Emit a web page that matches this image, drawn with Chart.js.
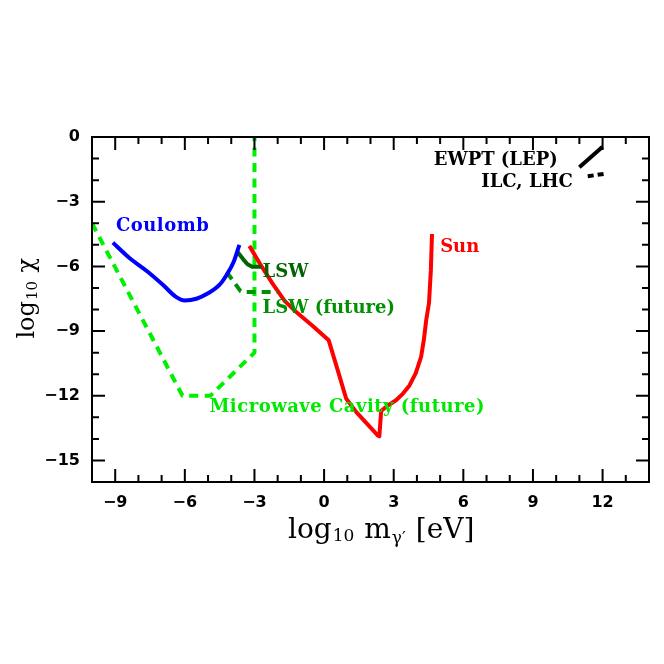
<!DOCTYPE html>
<html>
<head>
<meta charset="utf-8">
<script src="https://cdn.jsdelivr.net/npm/chart.js@4.4.0/dist/chart.umd.min.js"></script>
<style>
  html, body { margin: 0; padding: 0; background: #fff; }
  #wrap { width: 664px; height: 664px; position: relative; }
</style>
</head>
<body>
<div id="wrap"><canvas id="chart"></canvas></div>
<script>
// axis ranges and tick labels
const xMin = -10, xMax = 14;
const yMin = -16, yMax = 0;
const xTicks = [-9, -6, -3, 0, 3, 6, 9, 12];
const yTicks = [-15, -12, -9, -6, -3, 0];

// curves: x = log10 m [eV], y = log10 chi
const coulombX = [-9.1, -8.4, -7.6, -6.9, -6.4, -6.0, -5.5, -5.0, -4.5, -4.2, -3.9, -3.65];
const coulombY = [-4.9, -5.6, -6.25, -6.9, -7.4, -7.58, -7.5, -7.25, -6.85, -6.4, -5.8, -5.0];

const lswX = [-3.72, -3.5, -3.3, -3.1, -2.7];
const lswY = [-5.35, -5.65, -5.9, -6.02, -6.02];

const lswFutureX = [-4.2, -3.9, -3.6, -3.5, -2.0];
const lswFutureY = [-6.26, -6.7, -7.15, -7.19, -7.19];

const sunX = [-3.22, -2.75, -2.22, -1.7, -1.2, -0.5, 0.2, 0.59, 0.95, 1.38, 2.31, 2.38, 2.46, 2.75, 3.1, 3.4, 3.68, 3.95, 4.18, 4.3, 4.4, 4.52, 4.6, 4.65];
const sunY = [-5.05, -5.9, -6.8, -7.6, -8.12, -8.75, -9.43, -10.82, -12.13, -12.75, -13.84, -13.88, -12.7, -12.45, -12.21, -11.9, -11.52, -10.95, -10.2, -9.4, -8.5, -7.7, -6.2, -4.5];

const cavityX = [-10, -6.1, -4.9, -3.0, -3.0];
const cavityY = [-4.0, -12.0, -12.0, -10.0, 0];

const ewptX = [11.0, 12.0];
const ewptY = [-1.4, -0.45];

const ilcX = [11.36, 12.12];
const ilcY = [-1.82, -1.7];

function pts(xs, ys) {
    return xs.map((x, i) => ({ x: x, y: ys[i] }));
}

function fmt(v) {
    return v < 0 ? '\u2212' + (-v) : String(v);
}

// frame with inward ticks on all four sides
const framePlugin = {
    id: 'frame',
    afterDraw(chart) {
        const { ctx, chartArea: a, scales: { x, y } } = chart;
        ctx.save();
        ctx.strokeStyle = '#000';
        ctx.lineWidth = 2;
        ctx.strokeRect(a.left, a.top, a.right - a.left, a.bottom - a.top);
        ctx.beginPath();
        for (let v = xMin + 1; v < xMax; v++) {
            const len = v % 3 === 0 ? 13 : 7;
            const px = x.getPixelForValue(v);
            ctx.moveTo(px, a.bottom);
            ctx.lineTo(px, a.bottom - len);
            ctx.moveTo(px, a.top);
            ctx.lineTo(px, a.top + len);
        }
        for (let v = yMin + 1; v < yMax; v++) {
            const len = v % 3 === 0 ? 13 : 7;
            const py = y.getPixelForValue(v);
            ctx.moveTo(a.left, py);
            ctx.lineTo(a.left + len, py);
            ctx.moveTo(a.right, py);
            ctx.lineTo(a.right - len, py);
        }
        ctx.stroke();
        ctx.restore();
    }
};

// curve labels (in data units) and axis titles
const labelPlugin = {
    id: 'labels',
    afterDatasetsDraw(chart) {
        const { ctx, chartArea: a, scales: { x, y } } = chart;
        const labels = [
            { t: 'Coulomb', x: -8.97, y: -4.37, c: '#0000ff', al: 'left', ls: 0.5 },
            { t: 'LSW', x: -2.65, y: -6.49, c: '#006400', al: 'left', ls: 0 },
            { t: 'LSW (future)', x: -2.65, y: -8.18, c: '#009000', al: 'left', ls: 0 },
            { t: 'Sun', x: 5.0, y: -5.35, c: '#ff0000', al: 'left', ls: 0 },
            { t: 'EWPT (LEP)', x: 10.07, y: -1.31, c: '#000', al: 'right', ls: 0 },
            { t: 'ILC, LHC', x: 10.72, y: -2.32, c: '#000', al: 'right', ls: 0 },
            { t: 'Microwave Cavity (future)', x: -4.94, y: -12.75, c: '#00e800', al: 'left', ls: 0.5 }
        ];
        ctx.save();
        ctx.font = 'bold 18px "DejaVu Serif"';
        ctx.textBaseline = 'alphabetic';
        labels.forEach(l => {
            ctx.fillStyle = l.c;
            ctx.textAlign = l.al;
            ctx.letterSpacing = l.ls + 'px';
            ctx.fillText(l.t, x.getPixelForValue(l.x), y.getPixelForValue(l.y));
        });
        ctx.letterSpacing = '0px';

        // x axis title: log10 m_gamma' [eV]
        ctx.fillStyle = '#000';
        ctx.textAlign = 'left';
        const big = '28px "DejaVu Serif"', small = '17px "DejaVu Serif"';
        const parts = [
            ['log', big, 0], ['10', small, 3], [' m', big, 0], ['\u03b3\u2032', small, 5], [' [eV]', big, 0]
        ];
        let cx = a.left + 196;
        const by = a.bottom + 56;
        parts.forEach(p => {
            ctx.font = p[1];
            ctx.fillText(p[0], cx, by + p[2]);
            cx += ctx.measureText(p[0]).width + 1;
        });

        // y axis title: log10 chi (rotated)
        ctx.save();
        ctx.translate(a.left - 58, y.getPixelForValue(-9.35));
        ctx.rotate(-Math.PI / 2);
        const yb = '24px "DejaVu Serif"', ys = '15px "DejaVu Serif"';
        const yparts = [['log', yb, 0], ['10', ys, 3], [' \u03c7', yb, 0]];
        let tx = 0;
        yparts.forEach(p => {
            ctx.font = p[1];
            ctx.fillText(p[0], tx, p[2]);
            tx += ctx.measureText(p[0]).width + 1;
        });
        ctx.restore();
        ctx.restore();
    }
};

const tickFont = { family: '"DejaVu Sans"', size: 16, weight: 'bold' };

new Chart(document.getElementById('chart'), {
    type: 'scatter',
    data: {
        datasets: [
            { data: pts(coulombX, coulombY), borderColor: '#0000ff', borderWidth: 4, cubicInterpolationMode: 'monotone', order: 1 },
            { data: pts(lswX, lswY), borderColor: '#006400', borderWidth: 4, order: 2 },
            { data: pts(lswFutureX, lswFutureY), borderColor: '#009000', borderWidth: 4, borderDash: [9, 6], order: 3 },
            { data: pts(sunX, sunY), borderColor: '#ff0000', borderWidth: 4, order: 4 },
            { data: pts(ewptX, ewptY), borderColor: '#000', borderWidth: 4, order: 5 },
            { data: pts(ilcX, ilcY), borderColor: '#000', borderWidth: 4, borderDash: [6, 4], order: 6 },
            { data: pts(cavityX, cavityY), borderColor: '#00f000', borderWidth: 4, borderDash: [9, 6.5], order: 10 }
        ].map(d => Object.assign({ showLine: true, pointRadius: 0, fill: false, borderJoinStyle: 'round' }, d))
    },
    options: {
        responsive: true,
        maintainAspectRatio: false,
        animation: false,
        layout: { padding: { top: 137, right: 15, left: 0, bottom: 0 } },
        plugins: { legend: { display: false }, tooltip: { enabled: false } },
        scales: {
            x: {
                type: 'linear', min: xMin, max: xMax,
                grid: { display: false, drawTicks: false }, border: { display: false },
                afterBuildTicks: s => { s.ticks = xTicks.map(v => ({ value: v })); },
                afterFit: s => { s.height = 182; },
                ticks: { padding: 11, font: tickFont, color: '#000', maxRotation: 0, callback: fmt }
            },
            y: {
                type: 'linear', min: yMin, max: yMax,
                grid: { display: false, drawTicks: false }, border: { display: false },
                afterBuildTicks: s => { s.ticks = yTicks.map(v => ({ value: v })); },
                afterFit: s => { s.width = 92; },
                ticks: { padding: 12, font: tickFont, color: '#000', callback: fmt }
            }
        }
    },
    plugins: [framePlugin, labelPlugin]
});
</script>
</body>
</html>
